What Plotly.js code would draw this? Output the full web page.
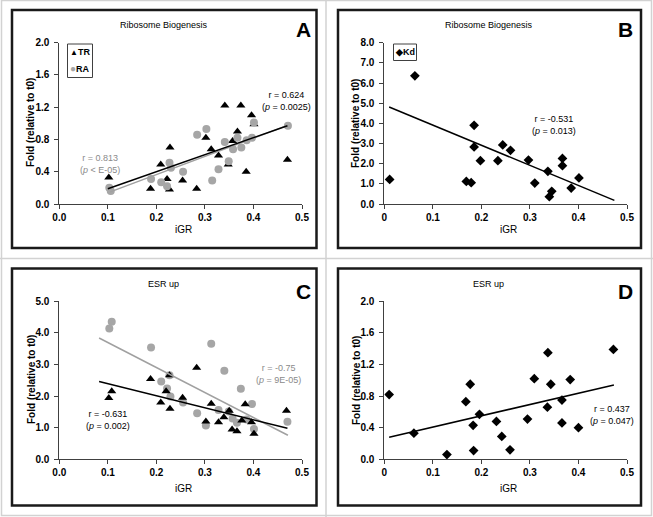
<!DOCTYPE html>
<html>
<head>
<meta charset="utf-8">
<script src="https://cdn.plot.ly/plotly-3.0.1.min.js"></script>
<style>html,body{margin:0;padding:0;background:#fff;}#chart{width:653px;height:517px;}</style>
</head>
<body>
<div id="chart"></div>
<script>
// ---- Data ----
// Panel A: Ribosome Biogenesis, TR and RA
const A_TR_x = [0.102,0.188,0.209,0.222,0.228,0.227,0.254,0.283,0.302,0.313,0.328,0.341,0.348,0.357,0.367,0.374,0.385,0.396,0.401,0.470];
const A_TR_y = [0.33,0.19,0.49,0.31,0.70,0.18,0.29,0.19,0.82,0.68,0.60,1.22,0.49,0.78,0.90,1.22,0.40,1.10,0.99,0.55];
const A_RA_x = [0.103,0.106,0.189,0.210,0.222,0.227,0.230,0.255,0.284,0.303,0.315,0.328,0.341,0.349,0.358,0.367,0.375,0.386,0.397,0.401,0.471];
const A_RA_y = [0.20,0.16,0.31,0.27,0.22,0.51,0.45,0.40,0.86,0.93,0.29,0.43,0.77,0.53,0.68,0.82,0.70,0.79,0.82,1.01,0.97];
const A_TR_fit_x = [0.100,0.470];
const A_TR_fit_y = [0.19,0.97];
const A_RA_fit_x = [0.105,0.470];
const A_RA_fit_y = [0.15,0.975];

// Panel B: Ribosome Biogenesis, Kd
const B_Kd_x = [0.011,0.063,0.169,0.179,0.185,0.185,0.198,0.234,0.244,0.260,0.297,0.310,0.337,0.340,0.345,0.367,0.367,0.385,0.401];
const B_Kd_y = [1.22,6.36,1.12,1.06,3.90,2.83,2.15,2.15,2.93,2.66,2.18,1.04,1.62,0.36,0.63,2.26,1.90,0.79,1.29];
const B_fit_x = [0.010,0.474];
const B_fit_y = [4.81,0.18];

// Panel C: ESR up, TR and RA
const C_TR_x = [0.102,0.108,0.188,0.209,0.220,0.227,0.228,0.254,0.283,0.302,0.313,0.328,0.339,0.350,0.356,0.366,0.376,0.383,0.396,0.401,0.468];
const C_TR_y = [1.94,2.15,2.54,1.80,2.15,2.66,1.60,1.95,2.90,1.20,1.76,1.17,1.33,1.54,0.94,0.89,1.23,1.74,1.17,0.81,1.54];
const C_RA_x = [0.103,0.108,0.189,0.210,0.222,0.227,0.229,0.255,0.284,0.302,0.313,0.328,0.340,0.349,0.357,0.366,0.374,0.386,0.397,0.401,0.470];
const C_RA_y = [4.14,4.35,3.54,2.46,2.24,2.66,1.99,1.80,1.46,1.07,3.66,1.56,2.80,1.51,1.29,1.16,2.23,1.26,1.75,0.96,1.19];
const C_TR_fit_x = [0.082,0.470];
const C_TR_fit_y = [2.46,0.98];
const C_RA_fit_x = [0.082,0.471];
const C_RA_fit_y = [3.84,0.76];

// Panel D: ESR up, Kd
const D_Kd_x = [0.010,0.061,0.129,0.168,0.177,0.183,0.184,0.196,0.231,0.242,0.259,0.295,0.309,0.336,0.337,0.343,0.366,0.366,0.383,0.400,0.472];
const D_Kd_y = [0.82,0.33,0.06,0.73,0.95,0.43,0.11,0.57,0.48,0.29,0.12,0.51,1.02,0.66,1.35,0.95,0.75,0.46,1.01,0.40,1.39];
const D_fit_x = [0.010,0.473];
const D_fit_y = [0.28,0.94];

// Tick labels
const xTickVals = [0,0.1,0.2,0.3,0.4,0.5];
const xTickTextAC = ['0.0','0.1','0.2','0.3','0.4','0.5'];
const xTickTextBD = ['0','0.1','0.2','0.3','0.4','0.5'];
const yTickValsA = [0,0.4,0.8,1.2,1.6,2.0];
const yTickValsB = [0,1,2,3,4,5,6,7,8];
const yTickValsC = [0,1,2,3,4,5];
const yTickValsD = [0,0.4,0.8,1.2,1.6,2.0];

// ---- Styling ----
const W = 653, H = 517;
const px = v => v / W;
const py = v => 1 - v / H;
const GRAY = '#a6a6a6';
const GRAYLINE = '#a0a0a0';
const GRAYTXT = '#8a8a8a';
const FONT = 'Liberation Sans, Arial, sans-serif';

function pts(x, y, xa, ya, symbol, color, size) {
  return {x: x, y: y, xaxis: xa, yaxis: ya, type: 'scatter', mode: 'markers',
    marker: {symbol: symbol, color: color, size: size, line: {width: 0}}, showlegend: false, hoverinfo: 'skip'};
}
function fit(x, y, xa, ya, color) {
  return {x: x, y: y, xaxis: xa, yaxis: ya, type: 'scatter', mode: 'lines',
    line: {color: color, width: 1.5}, showlegend: false, hoverinfo: 'skip'};
}

const data = [
  pts(A_TR_x, A_TR_y, 'x', 'y', 'triangle-up', '#000', 8),
  pts(A_RA_x, A_RA_y, 'x', 'y', 'circle', GRAY, 8),
  fit(A_RA_fit_x, A_RA_fit_y, 'x', 'y', GRAYLINE),
  fit(A_TR_fit_x, A_TR_fit_y, 'x', 'y', '#000'),
  pts(B_Kd_x, B_Kd_y, 'x2', 'y2', 'diamond', '#000', 7.5),
  fit(B_fit_x, B_fit_y, 'x2', 'y2', '#000'),
  pts(C_RA_x, C_RA_y, 'x3', 'y3', 'circle', GRAY, 8),
  pts(C_TR_x, C_TR_y, 'x3', 'y3', 'triangle-up', '#000', 8),
  fit(C_RA_fit_x, C_RA_fit_y, 'x3', 'y3', GRAYLINE),
  fit(C_TR_fit_x, C_TR_fit_y, 'x3', 'y3', '#000'),
  pts(D_Kd_x, D_Kd_y, 'x4', 'y4', 'diamond', '#000', 7.5),
  fit(D_fit_x, D_fit_y, 'x4', 'y4', '#000')
];

const tickFont = {family: FONT, size: 10, color: '#000', weight: 'bold'};
function xAxis(domain, anchor, ticktext) {
  return {domain: domain, anchor: anchor, range: [0, 0.5], tickvals: xTickVals, ticktext: ticktext,
    showgrid: false, zeroline: false, showline: true, linecolor: '#404040', linewidth: 1,
    ticks: 'outside', ticklen: 4, tickcolor: '#404040', tickwidth: 1, tickfont: tickFont, fixedrange: true};
}
function yAxis(domain, anchor, range, tickvals) {
  return {domain: domain, anchor: anchor, range: range, tickvals: tickvals, tickformat: '.1f',
    showgrid: false, zeroline: false, showline: true, linecolor: '#404040', linewidth: 1,
    ticks: 'outside', ticklen: 4, tickcolor: '#404040', tickwidth: 1, tickfont: tickFont,
    ticklabelstandoff: 3, fixedrange: true};
}

const xDomL = [px(59.3), px(302)];
const xDomR = [px(384.3), px(627)];
const yDomT = [py(204), py(42.7)];
const yDomB = [py(459.3), py(301.3)];

const layout = {
  width: W, height: H,
  margin: {l: 0, r: 0, t: 0, b: 0},
  paper_bgcolor: '#fff', plot_bgcolor: 'rgba(0,0,0,0)',
  showlegend: false,
  font: {family: FONT, color: '#000'},
  xaxis: xAxis(xDomL, 'y', xTickTextAC),
  yaxis: yAxis(yDomT, 'x', [0, 2], yTickValsA),
  xaxis2: xAxis(xDomR, 'y2', xTickTextBD),
  yaxis2: yAxis(yDomT, 'x2', [0, 8], yTickValsB),
  xaxis3: xAxis(xDomL, 'y3', xTickTextAC),
  yaxis3: yAxis(yDomB, 'x3', [0, 5], yTickValsC),
  xaxis4: xAxis(xDomR, 'y4', xTickTextBD),
  yaxis4: yAxis(yDomB, 'x4', [0, 2], yTickValsD),
  shapes: [],
  annotations: []
};

// Outer light-gray borders and separators
const sepStyle = {color: '#d2d2d2', width: 1.5};
layout.shapes.push(
  {type: 'rect', xref: 'paper', yref: 'paper', x0: px(1.5), x1: px(651.5), y0: py(515.5), y1: py(0.5), line: sepStyle},
  {type: 'line', xref: 'paper', yref: 'paper', x0: px(326), x1: px(326), y0: 0, y1: 1, line: sepStyle},
  {type: 'line', xref: 'paper', yref: 'paper', x0: 0, x1: 1, y0: py(258.5), y1: py(258.5), line: sepStyle}
);
// Panel frames
const frames = [[12, 316.5, 10, 248], [338, 641, 10, 248], [12, 316.5, 268.5, 505.5], [338, 641, 268.5, 505.5]];
frames.forEach(f => layout.shapes.push({type: 'rect', xref: 'paper', yref: 'paper',
  x0: px(f[0]), x1: px(f[1]), y0: py(f[3]), y1: py(f[2]), line: {color: '#1a1a1a', width: 2.5}}));
// Legend boxes
layout.shapes.push(
  {type: 'rect', xref: 'paper', yref: 'paper', x0: px(67.5), x1: px(92.5), y0: py(77.5), y1: py(44), line: {color: '#404040', width: 1}},
  {type: 'rect', xref: 'paper', yref: 'paper', x0: px(393.5), x1: px(416.5), y0: py(60.5), y1: py(44), line: {color: '#404040', width: 1}}
);

function ann(text, x, y, opts) {
  return Object.assign({text: text, x: x, y: y, xref: 'paper', yref: 'paper', showarrow: false,
    xanchor: 'center', yanchor: 'middle', font: {family: FONT, size: 10, color: '#000'}}, opts || {});
}
const titleFont = {family: FONT, size: 9, color: '#000'};
const letterFont = {family: FONT, size: 21, color: '#000', weight: 'bold'};
const yTitleFont = {family: FONT, size: 10, color: '#000', weight: 'bold'};
const xTitleFont = {family: FONT, size: 10, color: '#000'};

const panels = [
  {t: 'Ribosome Biogenesis', cx: 164, ty: 25, L: 'A', lx: 303, ly: 30, yx: 31, yc: 123, xt: 230, xc: 183},
  {t: 'Ribosome Biogenesis', cx: 489, ty: 25, L: 'B', lx: 625, ly: 30, yx: 356, yc: 123, xt: 230, xc: 508},
  {t: 'ESR up', cx: 163.5, ty: 284, L: 'C', lx: 303, ly: 291, yx: 31, yc: 380, xt: 488, xc: 183},
  {t: 'ESR up', cx: 488.5, ty: 284, L: 'D', lx: 625, ly: 291, yx: 356, yc: 380, xt: 488, xc: 508}
];
panels.forEach(p => {
  layout.annotations.push(ann(p.t, px(p.cx), py(p.ty), {font: titleFont}));
  layout.annotations.push(ann(p.L, px(p.lx), py(p.ly), {font: letterFont}));
  layout.annotations.push(ann('Fold (relative to t0)', px(p.yx), py(p.yc), {font: yTitleFont, textangle: -90}));
  layout.annotations.push(ann('iGR', px(p.xc), py(p.xt), {font: xTitleFont}));
});

// Legends (text labels, markers as glyphs)
const legFont = {family: FONT, size: 9, color: '#000', weight: 'bold'};
layout.annotations.push(
  ann('<span style="font-size:8px">▲</span>TR', px(80), py(52.3), {font: legFont}),
  ann('<span style="color:' + GRAY + ';font-size:10px">●</span>RA', px(80), py(68.8), {font: legFont}),
  ann('<span style="font-size:9px">◆</span>Kd', px(405), py(52.3), {font: legFont})
);

// Correlation labels (data coordinates)
const rFont = {family: FONT, size: 9, color: '#000'};
const rFontG = {family: FONT, size: 9, color: GRAYTXT};
layout.annotations.push(
  ann('r = 0.624<br>(<i>p</i> = 0.0025)', 0.469, 1.28, {xref: 'x', yref: 'y', font: rFont}),
  ann('r = 0.813<br>(<i>p</i> &lt; E-05)', 0.084, 0.50, {xref: 'x', yref: 'y', font: rFontG}),
  ann('r = -0.531<br>(<i>p</i> = 0.013)', 0.350, 3.94, {xref: 'x2', yref: 'y2', font: rFont}),
  ann('r = -0.75<br>(<i>p</i> = 9E-05)', 0.451, 2.69, {xref: 'x3', yref: 'y3', font: rFontG}),
  ann('r = -0.631<br>(<i>p</i> = 0.002)', 0.101, 1.23, {xref: 'x3', yref: 'y3', font: rFont}),
  ann('r = 0.437<br>(<i>p</i> = 0.047)', 0.470, 0.561, {xref: 'x4', yref: 'y4', font: rFont})
);

Plotly.newPlot('chart', data, layout, {displayModeBar: false, staticPlot: true});
</script>
</body>
</html>
